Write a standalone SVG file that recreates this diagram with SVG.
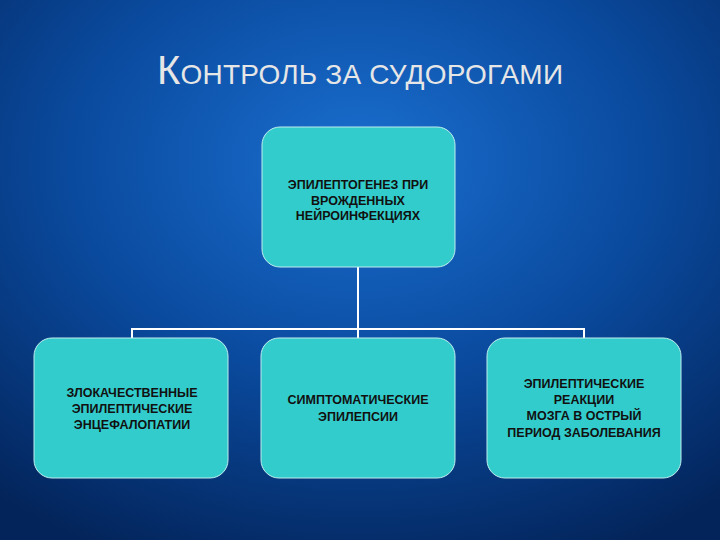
<svg xmlns="http://www.w3.org/2000/svg" width="720" height="540" viewBox="0 0 720 540">
<defs>
<radialGradient id="bg" cx="0.5" cy="0.3" r="0.8">
<stop offset="0" stop-color="#1a6fd0"/>
<stop offset="0.5" stop-color="#0a4a9e"/>
<stop offset="1" stop-color="#03245a"/>
</radialGradient>
<style>
.box{fill:#33cccc;stroke:#bfeeee;stroke-width:1}
.t{font-family:"Liberation Sans",Arial,sans-serif;font-weight:bold;font-size:12.5px;fill:#111;text-anchor:middle}
.c{stroke:#fff;stroke-width:2;fill:none}
</style>
</defs>
<rect width="720" height="540" fill="url(#bg)"/>
<text x="157" y="84" font-family="'Liberation Sans',Arial,sans-serif" fill="#e6e6e6" font-size="28" textLength="406" lengthAdjust="spacing"><tspan font-size="40">К</tspan>ОНТРОЛЬ ЗА СУДОРОГАМИ</text>
<g id="connectors">
<path class="c" d="M358 267V329M132 338V329H584V338M358 329V338"/>
</g>
<g id="n1"><rect class="box" x="262" y="127" width="193" height="140" rx="18"/>
<text class="t" x="358" y="189">ЭПИЛЕПТОГЕНЕЗ ПРИ</text><text class="t" x="358" y="205">ВРОЖДЕННЫХ</text><text class="t" x="358" y="220">НЕЙРОИНФЕКЦИЯХ</text></g>
<g id="n2"><rect class="box" x="34" y="338" width="194" height="140" rx="18"/>
<text class="t" x="132" y="397">ЗЛОКАЧЕСТВЕННЫЕ</text><text class="t" x="132" y="413">ЭПИЛЕПТИЧЕСКИЕ</text><text class="t" x="132" y="429">ЭНЦЕФАЛОПАТИИ</text></g>
<g id="n3"><rect class="box" x="261" y="338" width="194" height="140" rx="18"/>
<text class="t" x="358" y="404">СИМПТОМАТИЧЕСКИЕ</text><text class="t" x="358" y="421">ЭПИЛЕПСИИ</text></g>
<g id="n4"><rect class="box" x="487" y="338" width="194" height="140" rx="18"/>
<text class="t" x="584" y="388">ЭПИЛЕПТИЧЕСКИЕ</text><text class="t" x="584" y="404">РЕАКЦИИ</text><text class="t" x="584" y="420">МОЗГА В ОСТРЫЙ</text><text class="t" x="584" y="437">ПЕРИОД ЗАБОЛЕВАНИЯ</text></g>
</svg>
